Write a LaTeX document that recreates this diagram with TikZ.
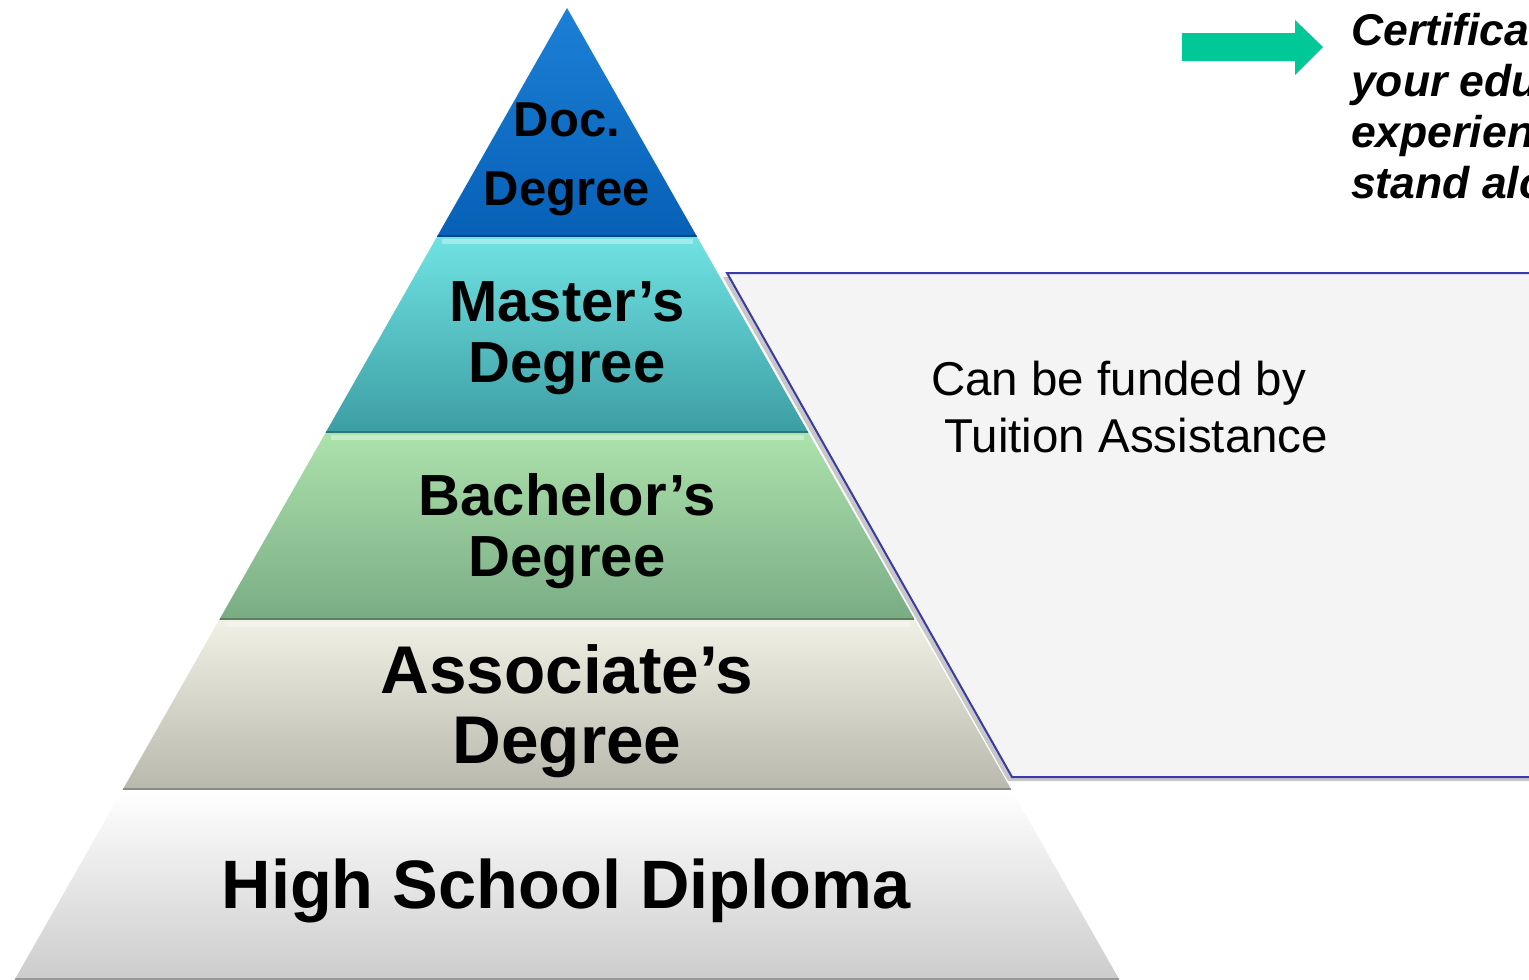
\documentclass[tikz,border=0pt]{standalone}
\usepackage{fontspec}
\setmainfont{Liberation Sans}
\definecolor{docT}{RGB}{28,128,214}
\definecolor{docB}{RGB}{6,96,182}
\definecolor{masT}{RGB}{112,226,226}
\definecolor{masB}{RGB}{60,158,164}
\definecolor{bacT}{RGB}{172,226,172}
\definecolor{bacB}{RGB}{122,172,132}
\definecolor{assT}{RGB}{240,240,228}
\definecolor{assB}{RGB}{184,184,172}
\definecolor{hsT}{RGB}{255,255,255}
\definecolor{hsB}{RGB}{204,204,204}
\definecolor{panelfill}{RGB}{244,244,244}
\definecolor{panelline}{RGB}{58,58,168}
\definecolor{arrowgreen}{RGB}{0,200,150}
\tikzset{
  layerlabel/.style={inner sep=0pt, align=center, text=black},
  highlight/.style={line width=5pt, white, opacity=0.35},
  seam/.style={line width=2pt, black, opacity=0.25},
}
\begin{document}
\begin{tikzpicture}[x=1pt,y=-1pt]
\useasboundingbox (0,0) rectangle (1529,980);
\clip (0,0) rectangle (1529,980);
% layers
\shade[top color=docT, bottom color=docB] (567,8) -- (697.2,237) -- (436.8,237) -- cycle;
\shade[top color=masT, bottom color=masB] (436.8,237) -- (697.2,237) -- (808.6,433) -- (325.4,433) -- cycle;
\shade[top color=bacT, bottom color=bacB] (325.4,433) -- (808.6,433) -- (914.9,620) -- (219.1,620) -- cycle;
\shade[top color=assT, bottom color=assB] (219.1,620) -- (914.9,620) -- (1011.5,790) -- (122.5,790) -- cycle;
\shade[top color=hsT, bottom color=hsB] (122.5,790) -- (1011.5,790) -- (1119.5,980) -- (14.5,980) -- cycle;
% bevel highlights and seams
\draw[highlight] (442,241) -- (693,241);
\draw[highlight] (331,437) -- (804,437);
\draw[highlight] (225,624) -- (910,624);
\draw[highlight] (128,794) -- (1007,794);
\draw[seam] (437,236) -- (697,236);
\draw[seam] (326,432) -- (808,432);
\draw[seam] (220,619) -- (914,619);
\draw[seam] (123,789) -- (1011,789);
\draw[seam] (15,979) -- (1119,979);
% labels
\node[layerlabel, anchor=north, font=\fontsize{49}{69}\selectfont\bfseries] (doc) at (567,103) {Doc.\\Degree};
\node[layerlabel, anchor=north, font=\fontsize{58}{61}\selectfont\bfseries] (mas) at (567,281) {Master’s\\Degree};
\node[layerlabel, anchor=north, font=\fontsize{58}{61}\selectfont\bfseries] (bac) at (567,473) {Bachelor’s\\Degree};
\node[layerlabel, anchor=north, font=\fontsize{67.5}{70}\selectfont\bfseries] (ass) at (567,644) {Associate’s\\Degree};
\node[layerlabel, anchor=base, font=\fontsize{68.5}{70}\selectfont\bfseries] (hs) at (566,908) {High School Diploma};
% panel with shadow
\fill[black, opacity=0.22] (723,277) -- (1560,277) -- (1560,781) -- (1008,781) -- cycle;
\filldraw[fill=panelfill, draw=panelline, line width=2pt] (727,273) -- (1560,273) -- (1560,777) -- (1012,777) -- cycle;
\node[inner sep=0pt, anchor=north west, align=left, font=\fontsize{47.5}{57}\selectfont] (ta) at (931,361) {Can be funded by\\\hspace*{0.278em}Tuition Assistance};
% arrow and certificate note
\fill[arrowgreen] (1182,33) -- (1295,33) -- (1295,20) -- (1323,47) -- (1295,75) -- (1295,61) -- (1182,61) -- cycle;
\node[inner sep=0pt, anchor=north west, align=left, font=\fontsize{44.5}{51}\selectfont\bfseries\itshape] (cert) at (1351,13) {Certificat\\your edu\\experienc\\stand alo};
\end{tikzpicture}
\end{document}
